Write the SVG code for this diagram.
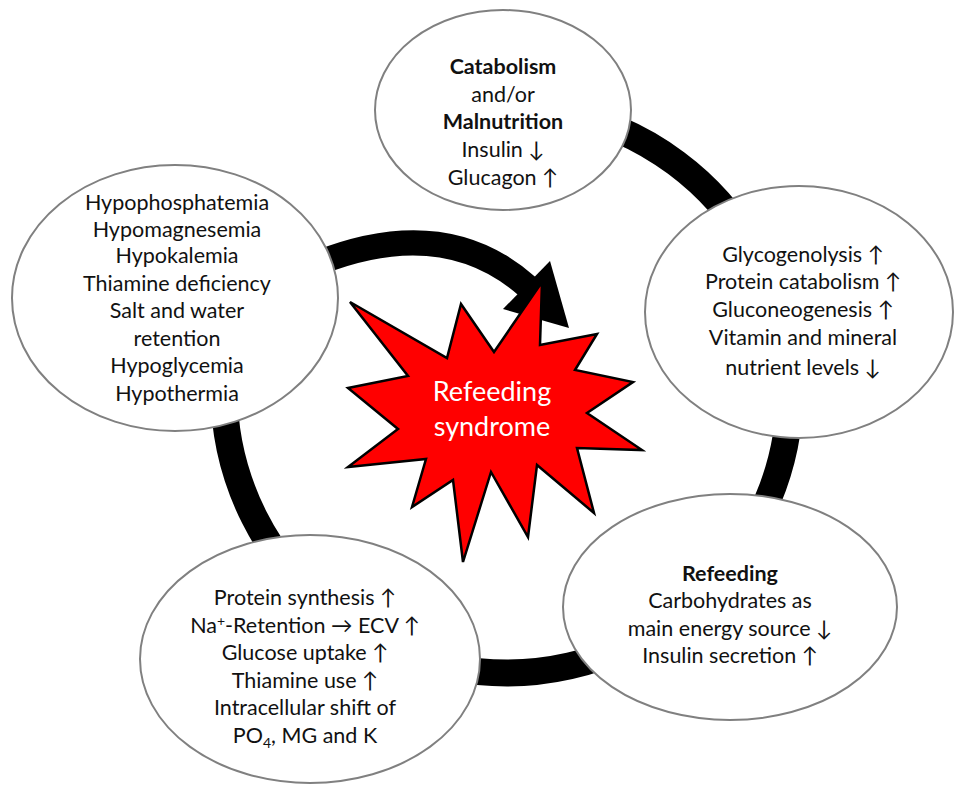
<svg xmlns="http://www.w3.org/2000/svg" width="954" height="798" viewBox="0 0 954 798">
<style>
.node ellipse{fill:#fff;stroke:#808080;stroke-width:2}
.t{font-family:Lato,"Open Sans","DejaVu Sans",sans-serif;font-size:21.5px;fill:#111;text-anchor:middle}
.b{font-weight:bold}
.star text{font-family:Lato,"Open Sans",sans-serif;font-size:27px;fill:#fff;text-anchor:middle}
</style>
<rect width="954" height="798" fill="#fff"/>
<g id="connectors">
<path d="M 433.8 116.6 A 283 283 0 1 1 250.5 270.4" fill="none" stroke="#000" stroke-width="27"/>
<path d="M 318 263 Q 445 213 528 287" fill="none" stroke="#000" stroke-width="25"/>
<polygon points="550,261 569,328 503,309" fill="#000"/>
</g>
<g id="n-catabolism" class="node">
<ellipse cx="503" cy="110" rx="128" ry="100"/>
<text class="t" x="503"><tspan class="b" x="503" y="74">Catabolism</tspan><tspan x="503" y="102">and/or</tspan><tspan class="b" x="503" y="129">Malnutrition</tspan><tspan x="503" y="157">Insulin ↓</tspan><tspan x="503" y="185">Glucagon ↑</tspan></text>
</g>
<g id="n-glycogenolysis" class="node">
<ellipse cx="799" cy="312" rx="154" ry="126"/>
<text class="t"><tspan x="803" y="262">Glycogenolysis ↑</tspan><tspan x="803" y="289">Protein catabolism ↑</tspan><tspan x="803" y="317">Gluconeogenesis ↑</tspan><tspan x="803" y="345">Vitamin and mineral</tspan><tspan x="803" y="375">nutrient levels ↓</tspan></text>
</g>
<g id="n-refeeding" class="node">
<ellipse cx="730" cy="607" rx="167" ry="113"/>
<text class="t"><tspan class="b" x="730" y="581">Refeeding</tspan><tspan x="730" y="608">Carbohydrates as</tspan><tspan x="730" y="636">main energy source ↓</tspan><tspan x="730" y="663">Insulin secretion ↑</tspan></text>
</g>
<g id="n-protein" class="node">
<ellipse cx="310" cy="659" rx="170" ry="124"/>
<text class="t"><tspan x="305" y="605">Protein synthesis ↑</tspan><tspan x="305" y="633">Na<tspan font-size="14" dy="-7">+</tspan><tspan dy="7">-Retention → ECV ↑</tspan></tspan><tspan x="305" y="660">Glucose uptake ↑</tspan><tspan x="305" y="688">Thiamine use ↑</tspan><tspan x="305" y="715">Intracellular shift of</tspan><tspan x="305" y="743">PO<tspan font-size="14" dy="5">4</tspan><tspan dy="-5">, MG and K</tspan></tspan></text>
</g>
<g id="n-hypo" class="node">
<ellipse cx="175" cy="298" rx="163" ry="133"/>
<text class="t"><tspan x="177" y="210">Hypophosphatemia</tspan><tspan x="177" y="237">Hypomagnesemia</tspan><tspan x="177" y="263">Hypokalemia</tspan><tspan x="177" y="291">Thiamine deficiency</tspan><tspan x="177" y="318">Salt and water</tspan><tspan x="177" y="346">retention</tspan><tspan x="177" y="373">Hypoglycemia</tspan><tspan x="177" y="401">Hypothermia</tspan></text>
</g>
<g id="n-syndrome" class="star">
<polygon points="350,302 447,358 461,304 494,352 542,282 540,345 597,334 575,370 633,382 587,413 642,450 577,448 594,513 537,465 528,537 491,472 463,562 453,480 412,507 426,459 348,467 398,429 348,388 408,376" fill="#ff0000" stroke="#000" stroke-width="2.5" stroke-linejoin="miter"/>
<text x="492" y="401">Refeeding</text>
<text x="492" y="436">syndrome</text>
</g>
</svg>
